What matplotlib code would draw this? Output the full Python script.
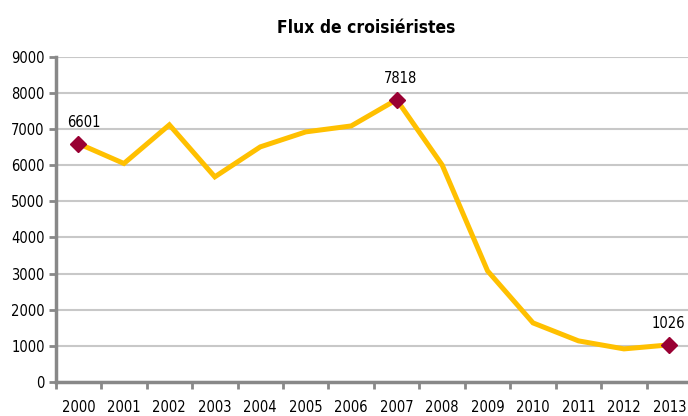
import matplotlib.pyplot as plt

years = [str(y) for y in range(2000, 2014)]
flux = [6601, 6050, 7120, 5680, 6510, 6925, 7090, 7818, 6010, 3075, 1634, 1136, 914, 1026]
marked = [0, 7, 13]
label_dx = [4, 3, -1]

plt.rcParams['font.family'] = 'DejaVu Sans'
plt.rcParams['font.stretch'] = 'condensed'

fig = plt.figure(figsize=(6.88, 4.16), dpi=100)
ax = fig.add_axes([0.081, 0.082, 0.925, 0.781])

x = list(range(len(years)))
ax.plot(x, flux, color='#FFC000', lw=3.6, solid_joinstyle='miter', zorder=3)
ax.plot([x[i] for i in marked], [flux[i] for i in marked], 'D', color='#990033',
        ms=8, zorder=4)
for i, dx in zip(marked, label_dx):
    ax.annotate(str(flux[i]), (x[i], flux[i]), xytext=(dx, 10), textcoords='offset points',
                ha='center', va='bottom', fontsize=10.5)

ax.set_xlim(-0.5, len(years) - 0.5)
ax.set_ylim(0, 9000)
ax.set_yticks(range(0, 9001, 1000))
ax.set_xticks(x)
ax.set_xticklabels(years)
ax.set_xticks([i - 0.5 for i in range(len(years) + 1)], minor=True)
ax.tick_params(axis='x', which='major', length=0, pad=13, labelsize=10.5)
ax.tick_params(axis='x', which='minor', length=5, width=2, color='#888888')
ax.tick_params(axis='y', length=5, width=2, color='#888888', labelsize=10.5, pad=3)
ax.grid(axis='y', color='#c8c8c8', lw=1.5)
ax.set_axisbelow(True)
for s in ['top', 'right']:
    ax.spines[s].set_visible(False)
for s in ['left', 'bottom']:
    ax.spines[s].set_color('#888888')
    ax.spines[s].set_linewidth(2.5)

fig.text(0.532, 0.933, 'Flux de croisiéristes', ha='center', va='center',
         fontsize=12.5, fontweight='bold')

fig.savefig('out.png', dpi=100)
